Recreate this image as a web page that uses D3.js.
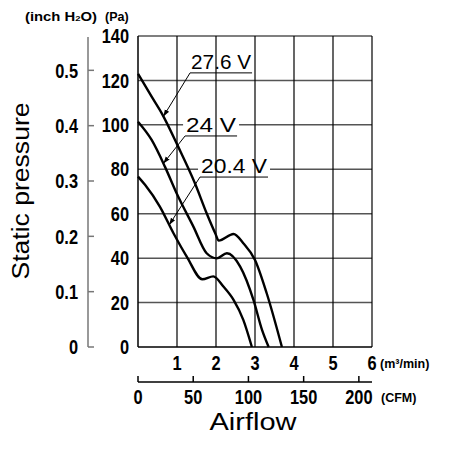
<!DOCTYPE html>
<html>
<head>
<meta charset="utf-8">
<script src="https://cdn.jsdelivr.net/npm/d3@7"></script>
<style>
  body { margin: 0; background: #fff; }
  .num { font-family: "Liberation Sans", Arial, sans-serif; font-weight: bold; font-size: 20px; }
  .unit { font-family: "Liberation Sans", Arial, sans-serif; font-weight: bold; font-size: 12.5px; }
  .title { font-family: "Liberation Sans", Arial, sans-serif; font-size: 23px; }
  .lbl { font-family: "Liberation Sans", Arial, sans-serif; font-size: 21px; }
</style>
</head>
<body>
<div id="chart"></div>
<script>
// tick values
var flowTicks = [1, 2, 3, 4, 5, 6];           // m3/min
var paTicks = [0, 20, 40, 60, 80, 100, 120, 140];
var inchTicks = [0, 0.1, 0.2, 0.3, 0.4, 0.5];
var cfmTicks = [0, 50, 100, 150, 200];

// curves: [airflow m3/min, static pressure Pa]
var voltages = ['27.6 V', '24 V', '20.4 V'];
var curve276 = [[0, 123], [0.35, 112.7], [0.61, 105.2], [1.03, 90.2], [1.46, 73.7], [1.76, 60.2],
  [1.98, 51.2], [2.07, 47.9], [2.45, 50.9], [2.7, 46.7], [3.0, 39.2], [3.3, 24.2], [3.69, 0]];
var curve24 = [[0, 101.4], [0.35, 93.2], [0.69, 81.2], [0.99, 69.2], [1.42, 54.2], [1.76, 42.2],
  [2.02, 39.9], [2.28, 42.2], [2.62, 36.2], [2.96, 21.2], [3.18, 7.7], [3.35, 0]];
var curve204 = [[0, 76.7], [0.18, 73.0], [0.56, 63.2], [0.91, 51.2], [1.25, 40.7], [1.65, 30.5],
  [1.93, 31.8], [2.19, 27.2], [2.45, 21.2], [2.7, 12.2], [2.92, 0]];
var curves = [curve276, curve24, curve204];

var PA_PER_INCH = 249.089;
var M3MIN_PER_CFM = 0.0283168;

var width = 451, height = 450;
var svg = d3.select('#chart').append('svg')
  .attr('width', width)
  .attr('height', height);

var x = d3.scaleLinear().domain([0, 6]).range([138, 372]);
var y = d3.scaleLinear().domain([0, 140]).range([347, 36]);
var xCfm = d3.scaleLinear().domain([0, 6 / M3MIN_PER_CFM]).range([138, 372]);
var yInch = d3.scaleLinear().domain([0, 140 / PA_PER_INCH]).range([347, 36]);

// condensed bold numbers
function numLabels(g, data, fx, fy, anchor, fmt) {
  g.selectAll('text')
    .data(data)
    .enter().append('text')
    .attr('class', 'num')
    .attr('transform', function(d) { return 'translate(' + fx(d) + ',' + fy(d) + ') scale(0.82,1)'; })
    .attr('dy', '0.36em')
    .attr('text-anchor', anchor)
    .text(fmt || function(d) { return d; });
}

// arrow marker
svg.append('defs').append('marker')
  .attr('id', 'arrow')
  .attr('viewBox', '0 0 10 10')
  .attr('refX', 10).attr('refY', 5)
  .attr('markerWidth', 7).attr('markerHeight', 7)
  .attr('markerUnits', 'userSpaceOnUse')
  .attr('orient', 'auto')
  .append('path')
  .attr('d', 'M0,1.5 L10,5 L0,8.5 Z')
  .attr('fill', '#000');

//horizontal grid
svg.append('g').selectAll('line')
  .data(paTicks.filter(function(d) { return d > 0; }))
  .enter().append('line')
  .attr('x1', x(0)).attr('x2', x(6))
  .attr('y1', function(d) { return y(d); })
  .attr('y2', function(d) { return y(d); })
  .attr('stroke', '#555').attr('stroke-width', 1.5);

// label settings (underline start in data units, arrow tip airflow)
var labelPos = [
  { q: 1.335, p: 123.4, tip: 0.65, len: 62 },
  { q: 1.207, p: 95.0, tip: 0.65, len: 52 },
  { q: 1.59, p: 76.5, tip: 0.80, len: 68 }
];

var bgLayer = svg.append('g');
var vgrid = svg.append('g');

// vertical grid
vgrid.selectAll('line')
  .data(flowTicks)
  .enter().append('line')
  .attr('x1', function(d) { return x(d); })
  .attr('x2', function(d) { return x(d); })
  .attr('y1', y(0)).attr('y2', y(140))
  .attr('stroke', '#000').attr('stroke-width', 1.2);

// plot frame left and bottom
svg.append('line').attr('x1', x(0)).attr('x2', x(0)).attr('y1', y(0)).attr('y2', y(140))
  .attr('stroke', '#000').attr('stroke-width', 1.5);
svg.append('line').attr('x1', x(0)).attr('x2', x(6)).attr('y1', y(0)).attr('y2', y(0))
  .attr('stroke', '#000').attr('stroke-width', 1.5);

// curves
var line = d3.line()
  .x(function(d) { return x(d[0]); })
  .y(function(d) { return y(d[1]); })
  .curve(d3.curveMonotoneX);

svg.append('g').selectAll('path')
  .data(curves)
  .enter().append('path')
  .attr('d', line)
  .attr('fill', 'none')
  .attr('stroke', '#000')
  .attr('stroke-width', 2.4)
  .attr('stroke-linejoin', 'round');

function valueAt(data, q) {
  for (var i = 1; i < data.length; i++) {
    if (q <= data[i][0]) {
      var a = data[i - 1], b = data[i];
      return a[1] + (b[1] - a[1]) * (q - a[0]) / (b[0] - a[0]);
    }
  }
  return 0;
}

// curve labels
voltages.forEach(function(v, i) {
  var lp = labelPos[i];
  var ux = x(lp.q), uy = y(lp.p);
  var t = svg.append('text')
    .attr('class', 'lbl')
    .attr('x', ux + 1)
    .attr('y', uy - 4)
    .attr('textLength', lp.len - 2)
    .attr('lengthAdjust', 'spacingAndGlyphs')
    .text(v);
  var bb = t.node().getBBox();
  bgLayer.append('rect')
    .attr('x', bb.x - 3).attr('y', bb.y + 2)
    .attr('width', bb.width + 6).attr('height', bb.height - 4)
    .attr('fill', '#fff');
  svg.append('line')
    .attr('x1', ux).attr('x2', ux + lp.len)
    .attr('y1', uy).attr('y2', uy)
    .attr('stroke', '#000').attr('stroke-width', 1);
  svg.append('line')
    .attr('x1', ux).attr('y1', uy)
    .attr('x2', x(lp.tip)).attr('y2', y(valueAt(curves[i], lp.tip)))
    .attr('stroke', '#000').attr('stroke-width', 1)
    .attr('marker-end', 'url(#arrow)');
});

// Pa tick labels
numLabels(svg.append('g'), paTicks, function() { return 129; }, y, 'end');

// inch H2O axis
var inchAxis = svg.append('g');
inchAxis.append('line')
  .attr('x1', 88).attr('x2', 88)
  .attr('y1', yInch(0)).attr('y2', y(140) + 1)
  .attr('stroke', '#777').attr('stroke-width', 1.5);
inchAxis.selectAll('line.tick')
  .data(inchTicks)
  .enter().append('line')
  .attr('class', 'tick')
  .attr('x1', 88).attr('x2', 94)
  .attr('y1', function(d) { return yInch(d); })
  .attr('y2', function(d) { return yInch(d); })
  .attr('stroke', '#777').attr('stroke-width', 1.5);
numLabels(inchAxis, inchTicks, function() { return 78; }, yInch, 'end',
  function(d) { return d === 0 ? '0' : d3.format('.1f')(d); });

// m3/min tick labels
numLabels(svg.append('g'), flowTicks, x, function() { return 363; }, 'middle');

// CFM axis
var cfmAxis = svg.append('g');
cfmAxis.append('line')
  .attr('x1', x(0)).attr('x2', x(6))
  .attr('y1', 382).attr('y2', 382)
  .attr('stroke', '#000').attr('stroke-width', 1.5);
cfmAxis.selectAll('line.tick')
  .data(cfmTicks)
  .enter().append('line')
  .attr('class', 'tick')
  .attr('x1', function(d) { return xCfm(d); })
  .attr('x2', function(d) { return xCfm(d); })
  .attr('y1', 376).attr('y2', 382)
  .attr('stroke', '#000').attr('stroke-width', 1.5);
numLabels(cfmAxis, cfmTicks, xCfm, function() { return 397; }, 'middle');

// units
var inchUnit = svg.append('text').attr('class', 'unit').attr('x', 25).attr('y', 21)
  .attr('textLength', 72).attr('lengthAdjust', 'spacingAndGlyphs');
inchUnit.append('tspan').text('(inch H');
inchUnit.append('tspan').attr('font-size', '8px').text('2');
inchUnit.append('tspan').text('O)');
svg.append('text').attr('class', 'unit').attr('x', 105).attr('y', 21).text('(Pa)');
svg.append('text').attr('class', 'unit').attr('x', 380).attr('y', 368).text('(m³/min)');
svg.append('text').attr('class', 'unit').attr('x', 381).attr('y', 402).text('(CFM)');

// titles
svg.append('text')
  .attr('class', 'title')
  .attr('transform', 'translate(29,191) rotate(-90)')
  .attr('text-anchor', 'middle')
  .attr('textLength', 177)
  .attr('lengthAdjust', 'spacingAndGlyphs')
  .text('Static pressure');
svg.append('text')
  .attr('class', 'title')
  .attr('x', 253).attr('y', 430)
  .attr('text-anchor', 'middle')
  .attr('textLength', 87)
  .attr('lengthAdjust', 'spacingAndGlyphs')
  .text('Airflow');
</script>
</body>
</html>
